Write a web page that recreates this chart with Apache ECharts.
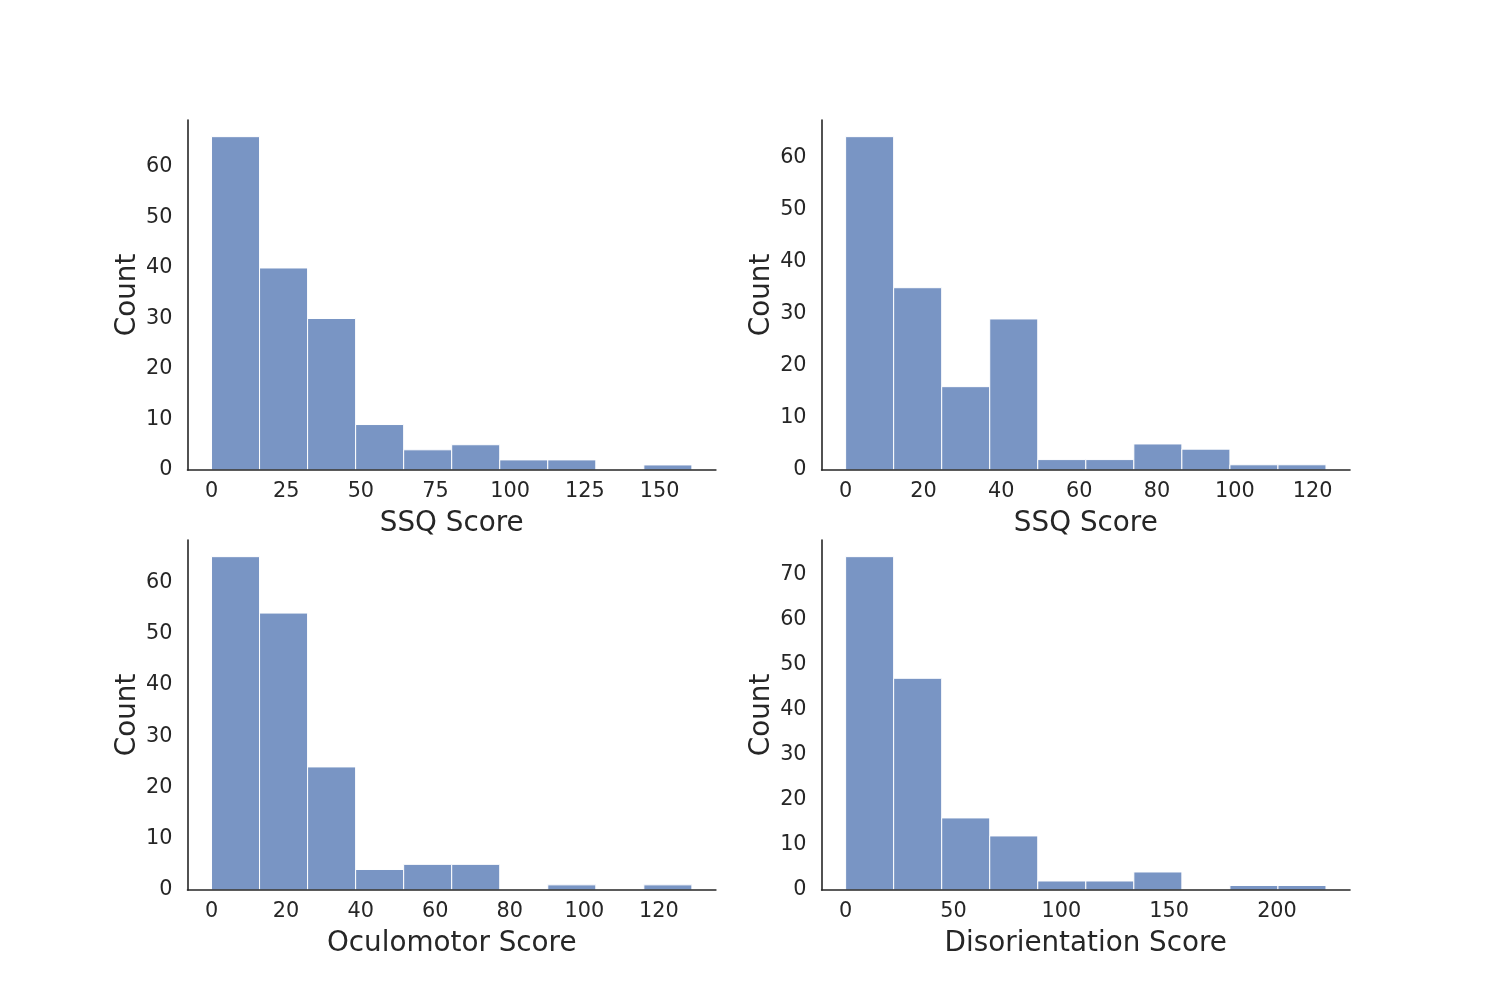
<!DOCTYPE html>
<html>
<head>
<meta charset="utf-8">
<script src="https://cdn.jsdelivr.net/npm/echarts@6/dist/echarts.min.js"></script>
<style>
  html, body { margin: 0; padding: 0; background: #fff; }
  #chart { width: 1500px; height: 1000px; }
</style>
</head>
<body>
<div id="chart"></div>
<script>
// histogram counts per bin (10 equal bins from 0 to the max score)
const ssqCountsA = [66, 40, 30, 9, 4, 5, 2, 2, 0, 1];
const ssqCountsB = [64, 35, 16, 29, 2, 2, 5, 4, 1, 1];
const oculomotorCounts = [65, 54, 24, 4, 5, 5, 0, 1, 0, 1];
const disorientationCounts = [74, 47, 16, 12, 2, 2, 4, 0, 1, 1];

// highest score in each sample (sets the bin range)
const ssqMaxA = 160.82;
const ssqMaxB = 123.42;
const oculomotorMax = 128.86;
const disorientationMax = 222.72;

// tick labels
const xTicksA = [0, 25, 50, 75, 100, 125, 150];
const xTicksB = [0, 20, 40, 60, 80, 100, 120];
const xTicksC = [0, 20, 40, 60, 80, 100, 120];
const xTicksD = [0, 50, 100, 150, 200];
const yTicksA = [0, 10, 20, 30, 40, 50, 60];
const yTicksB = [0, 10, 20, 30, 40, 50, 60];
const yTicksC = [0, 10, 20, 30, 40, 50, 60];
const yTicksD = [0, 10, 20, 30, 40, 50, 60, 70];

const panels = [
  { counts: ssqCountsA, max: ssqMaxA, xTicks: xTicksA, yTicks: yTicksA, xName: 'SSQ Score' },
  { counts: ssqCountsB, max: ssqMaxB, xTicks: xTicksB, yTicks: yTicksB, xName: 'SSQ Score' },
  { counts: oculomotorCounts, max: oculomotorMax, xTicks: xTicksC, yTicks: yTicksC, xName: 'Oculomotor Score' },
  { counts: disorientationCounts, max: disorientationMax, xTicks: xTicksD, yTicks: yTicksD, xName: 'Disorientation Score' }
];

const FONT = 'DejaVu Sans';
const INK = '#262626';
const BAR = '#7995c4';

// matplotlib subplot boxes
const gridBoxes = [
  { left: 187.5, top: 120 },
  { left: 821.6, top: 120 },
  { left: 187.5, top: 540 },
  { left: 821.6, top: 540 }
];

const grid = [], xAxis = [], yAxis = [], series = [];

panels.forEach((p, i) => {
  grid.push({ left: gridBoxes[i].left, top: gridBoxes[i].top, width: 528.4, height: 350, containLabel: false });

  const peak = Math.max(...p.counts);
  xAxis.push({
    type: 'value',
    gridIndex: i,
    min: -0.05 * p.max,
    max: 1.05 * p.max,
    z: 5,
    name: p.xName,
    nameLocation: 'middle',
    nameGap: 40,
    nameTextStyle: { fontFamily: FONT, fontSize: 27.8, color: INK },
    axisLine: { show: true, onZero: false, lineStyle: { color: INK, width: 1.6 } },
    axisTick: { show: false },
    splitLine: { show: false },
    axisLabel: { customValues: p.xTicks, fontFamily: FONT, fontSize: 20.8, color: INK, margin: 11 }
  });
  yAxis.push({
    type: 'value',
    gridIndex: i,
    min: 0,
    max: 1.05 * peak,
    z: 5,
    name: 'Count',
    nameLocation: 'middle',
    nameRotate: 90,
    nameGap: 45,
    nameTextStyle: { fontFamily: FONT, fontSize: 27.8, color: INK },
    axisLine: { show: true, onZero: false, lineStyle: { color: INK, width: 1.6 } },
    axisTick: { show: false },
    splitLine: { show: false },
    axisLabel: { customValues: p.yTicks, fontFamily: FONT, fontSize: 20.8, color: INK, margin: 15, padding: [2, 0, 0, 0] }
  });

  const width = p.max / p.counts.length;
  const data = p.counts.map((c, k) => [k * width, (k + 1) * width, c]);
  series.push({
    type: 'custom',
    xAxisIndex: i,
    yAxisIndex: i,
    z: 1,
    data: data,
    encode: { x: [0, 1], y: 2 },
    renderItem(params, api) {
      const topLeft = api.coord([api.value(0), api.value(2)]);
      const bottomRight = api.coord([api.value(1), 0]);
      return {
        type: 'rect',
        shape: {
          x: topLeft[0],
          y: topLeft[1],
          width: bottomRight[0] - topLeft[0],
          height: bottomRight[1] - topLeft[1]
        },
        style: { fill: BAR, stroke: '#ffffff', lineWidth: 1 }
      };
    }
  });
});

const chart = echarts.init(document.getElementById('chart'), null, { renderer: 'canvas' });
chart.setOption({
  backgroundColor: '#ffffff',
  animation: false,
  grid: grid,
  xAxis: xAxis,
  yAxis: yAxis,
  series: series
});
</script>
</body>
</html>
